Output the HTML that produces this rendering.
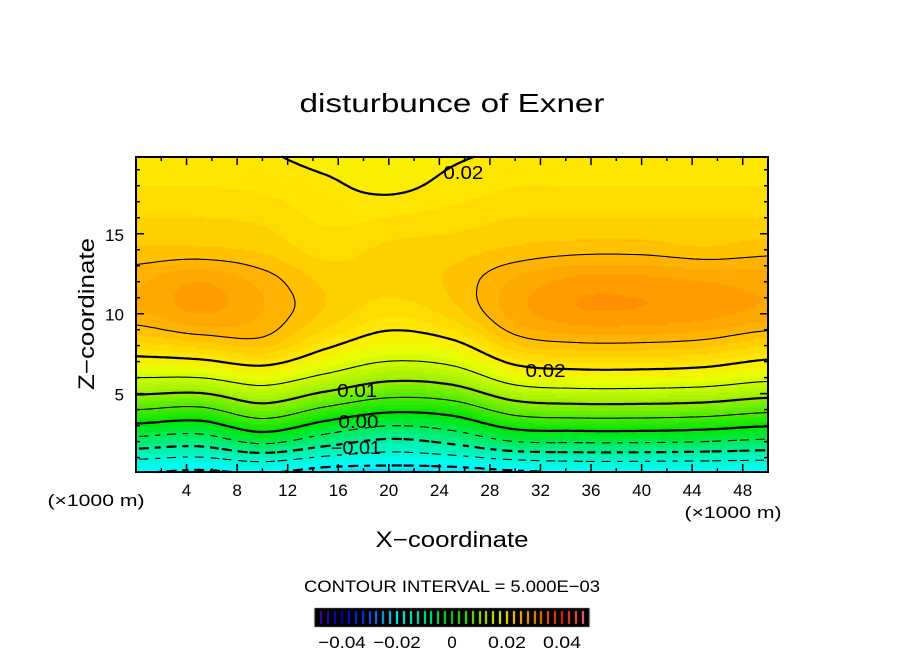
<!DOCTYPE html>
<html><head><meta charset="utf-8"><style>
body{margin:0;background:#fff;}
#wrap{position:relative;width:904px;height:654px;overflow:hidden;font-family:"Liberation Sans",sans-serif;}
canvas,svg{position:absolute;left:0;top:0;}
</style></head><body>
<div id="wrap">
<canvas id="cv" width="904" height="654"></canvas>
<svg id="sv" width="904" height="654"></svg>
</div>
<script>
// Data grid: columns at xCoords (km), rows at zCoords (km)
const xCoords=[0,5,10,15,20,25,30,35,40,45,50];
const zCoords=[0,2,4,6,8,10,12,14,16,18,20];
const col0=[-0.020,-0.007,0.005,0.015,0.022,0.026,0.026,0.024,0.0225,0.0212,0.0201];
const col5=[-0.021,-0.008,0.004,0.015,0.023,0.0275,0.0275,0.024,0.0225,0.0212,0.0201];
const col10=[-0.020,-0.004,0.008,0.017,0.024,0.0262,0.0258,0.0235,0.0222,0.021,0.0201];
const col15=[-0.022,-0.008,0.004,0.014,0.0205,0.0235,0.0235,0.022,0.021,0.0203,0.0195];
const col20=[-0.022,-0.011,0.001,0.011,0.018,0.0215,0.023,0.0228,0.0213,0.0196,0.019];
const col25=[-0.022,-0.009,0.002,0.012,0.019,0.023,0.024,0.0232,0.0218,0.0205,0.0198];
const col30=[-0.021,-0.005,0.007,0.017,0.0235,0.0268,0.0265,0.024,0.0225,0.0212,0.0201];
const col35=[-0.020,-0.0045,0.008,0.018,0.0245,0.0285,0.028,0.0245,0.0225,0.0212,0.0201];
const col40=[-0.020,-0.0045,0.008,0.018,0.0245,0.0285,0.028,0.0245,0.0225,0.0212,0.0201];
const col45=[-0.020,-0.005,0.0075,0.0175,0.024,0.028,0.0275,0.024,0.0225,0.0212,0.0201];
const col50=[-0.020,-0.006,0.006,0.016,0.0225,0.027,0.027,0.0245,0.0225,0.0212,0.0201];
const columns=[col0,col5,col10,col15,col20,col25,col30,col35,col40,col45,col50];
const levels=[-0.02,-0.015,-0.01,-0.005,0,0.005,0.01,0.015,0.02,0.025];
const xTicks=[4,8,12,16,20,24,28,32,36,40,44,48];
const zTicks=[5,10,15];
const cbTicks=[-0.04,-0.02,0,0.02,0.04];
const cbTickLabels=["−0.04","−0.02","0","0.02","0.04"];
const contourLabels=[{x:25.9,z:18.86,t:"0.02"},{x:32.4,z:6.48,t:"0.02"},{x:17.5,z:5.23,t:"0.01"},{x:17.6,z:3.29,t:"0.00"},{x:17.4,z:1.66,t:"−0.01"}];

const L=136,R=768,T=157,B=472,X0=0,X1=50,Z0=0.1,Z1=19.8;
const sx=x=>L+(x-X0)/(X1-X0)*(R-L);
const sz=z=>B-(z-Z0)/(Z1-Z0)*(B-T);
const ix=p=>X0+(p-L)/(R-L)*(X1-X0);
const iz=p=>Z0+(B-p)/(B-T)*(Z1-Z0);

function cr(p0,p1,p2,p3,t){return 0.5*(2*p1+(-p0+p2)*t+(2*p0-5*p1+4*p2-p3)*t*t+(-p0+3*p1-3*p2+p3)*t*t*t);}
function interp1(arr,coords,v){
  const n=coords.length,step=coords[1]-coords[0];
  let f=(v-coords[0])/step; if(f<0)f=0; if(f>n-1)f=n-1;
  let i=Math.min(Math.floor(f),n-2),t=f-i;
  const g=k=>arr[Math.max(0,Math.min(n-1,k))];
  return cr(g(i-1),g(i),g(i+1),g(i+2),t);
}
function field(x,z){
  const vals=columns.map(c=>interp1(c,zCoords,z));
  return interp1(vals,xCoords,x);
}
const stops=[[-0.05,[100,0,160]],[-0.04,[0,0,200]],[-0.03,[0,80,255]],[-0.02,[0,255,255]],[-0.01,[0,240,160]],[0,[0,230,0]],[0.01,[150,240,0]],[0.017,[230,255,0]],[0.02,[255,235,0]],[0.0225,[255,215,0]],[0.025,[255,185,0]],[0.0275,[255,162,0]],[0.03,[255,140,0]],[0.04,[255,30,0]],[0.05,[255,130,130]]];
function color(v){
  if(v<=stops[0][0])return stops[0][1];
  for(let i=1;i<stops.length;i++){if(v<=stops[i][0]){const a=stops[i-1],b=stops[i],t=(v-a[0])/(b[0]-a[0]);return a[1].map((c,k)=>Math.round(c+(b[1][k]-c)*t));}}
  return stops[stops.length-1][1];
}
const ctx=document.getElementById('cv').getContext('2d');
const S=2;
for(let py=T;py<B;py+=S){for(let px=L;px<R;px+=S){
  let v=field(ix(px+1),iz(py+1));
  v=Math.floor(v/0.00125)*0.00125+0.000625;
  const c=color(v);ctx.fillStyle=`rgb(${c[0]},${c[1]},${c[2]})`;ctx.fillRect(px,py,S,S);
}}
const cbL=314.5,cbR=589.5,cbT=608,cbB=627;
const cbx=v=>cbL+(v+0.05)/0.1*(cbR-cbL);
ctx.fillStyle='#000';ctx.fillRect(cbL,cbT,cbR-cbL,cbB-cbT);
for(let v=-0.0475;v<0.05;v+=0.0025){const c=color(v);ctx.fillStyle=`rgb(${c[0]},${c[1]},${c[2]})`;ctx.fillRect(Math.round(cbx(v))-1,cbT+3,2,cbB-cbT-6);}

const NS='http://www.w3.org/2000/svg';
const svg=document.getElementById('sv');
function mk(tag,attrs,parent){const e=document.createElementNS(NS,tag);for(const k in attrs)e.setAttribute(k,attrs[k]);(parent||svg).appendChild(e);return e;}
const NX=160,NZ=80;
const grid=[];
for(let j=0;j<=NZ;j++){const row=[];for(let i=0;i<=NX;i++){row.push(field(X0+(X1-X0)*i/NX,Z0+(Z1-Z0)*j/NZ));}grid.push(row);}
const gx=i=>sx(X0+(X1-X0)*i/NX), gz=j=>sz(Z0+(Z1-Z0)*j/NZ);
levels.forEach(lv=>{
  let d='';
  for(let j=0;j<NZ;j++)for(let i=0;i<NX;i++){
    const c=[[i,j],[i+1,j],[i+1,j+1],[i,j+1]];
    const pts=[];
    for(let e=0;e<4;e++){const a=c[e],b=c[(e+1)%4];const va=grid[a[1]][a[0]],vb=grid[b[1]][b[0]];
      if((va<lv)!==(vb<lv)){const t=(lv-va)/(vb-va);pts.push([gx(a[0])+(gx(b[0])-gx(a[0]))*t,gz(a[1])+(gz(b[1])-gz(a[1]))*t]);}}
    for(let k=0;k+1<pts.length;k+=2){
      const mx=(pts[k][0]+pts[k+1][0])/2;
      if(lv<0&&Math.floor(mx/7)%2===1)continue;
      d+=`M${pts[k][0].toFixed(1)},${pts[k][1].toFixed(1)}L${pts[k+1][0].toFixed(1)},${pts[k+1][1].toFixed(1)}`;
    }
  }
  const thick=Math.abs(Math.round(lv*1000))%10===0;
  const p=mk('path',{d:d,stroke:'#000','stroke-width':thick?2.2:1.1,fill:'none','stroke-linecap':'square'});
  
  
});
function txt(x,y,s,size,name,anchor,extra,len){const a=Object.assign({x:x,y:y,'font-size':size,'text-anchor':anchor||'middle','font-family':'Liberation Sans, sans-serif'},extra||{});if(len){a.textLength=len;a.lengthAdjust='spacingAndGlyphs';}const t=mk('text',a);t.textContent=s;return t;}
contourLabels.forEach(l=>{
  txt(sx(l.x),sz(l.z)+7,l.t,18,'contour-label','middle',null,l.t.length*10);
});
const fr=mk('rect',{x:L,y:T,width:R-L,height:B-T,fill:'none',stroke:'#000','stroke-width':2});


let td='';
for(let x=2;x<50;x+=2){const len=(x%4===0)?8:4;td+=`M${sx(x)},${B}v${-len}M${sx(x)},${T}v${len}`;}
for(let z=1;z<20;z++){const len=(z%5===0)?8:4;td+=`M${L},${sz(z)}h${len}M${R},${sz(z)}h${-len}`;}
const tk=mk('path',{d:td,stroke:'#000','stroke-width':1.5});


xTicks.forEach(x=>txt(sx(x),B+24,String(x),17,'x-tick-label','middle',null,String(x).length*9.5));
zTicks.forEach(z=>txt(L-12,sz(z)+7,String(z),17,'y-tick-label','end',null,String(z).length*9.5));
txt(96,506,'(×1000 m)',17,'x-unit-left','middle',null,97);
txt(733,518,'(×1000 m)',17,'x-unit-right','middle',null,97);
txt(452,112,'disturbunce of Exner',26,'chart-title','middle',null,305);
txt(452,547,'X−coordinate',22,'x-axis-title','middle',null,153);
txt(94,314,'Z−coordinate',22,'y-axis-title','middle',{transform:'rotate(-90 94 314)'},152);
txt(452,592,'CONTOUR INTERVAL = 5.000E−03',17,'contour-interval-note','middle',null,296);
cbTicks.forEach((v,i)=>txt(cbx(v),648,cbTickLabels[i],17,'colorbar-tick-label','middle',null,cbTickLabels[i].length*9.5));
</script>
</body></html>
